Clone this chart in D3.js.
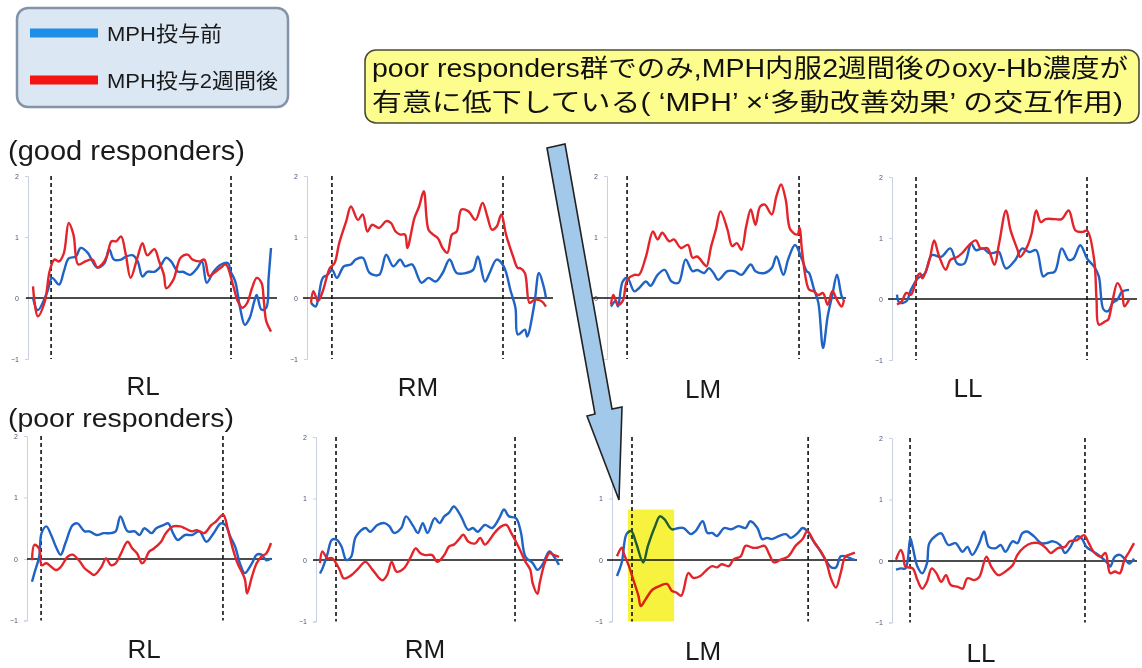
<!DOCTYPE html>
<html><head><meta charset="utf-8">
<script src="https://cdn.jsdelivr.net/npm/d3@7"></script>
<style>
html,body{margin:0;padding:0;background:#fff;}
svg{display:block;font-family:"Liberation Sans",Arial,"Noto Sans CJK JP",sans-serif;}
</style></head>
<body>
<script>
// ---------- data ----------
const groups = ["(good responders)", "(poor responders)"];
const regions = ["RL", "RM", "LM", "LL"];
const seriesNames = ["MPH投与前", "MPH投与2週間後"];
const yTicks = [2, 1, 0, -1];
const calloutLines = ["poor responders群でのみ,MPH内服2週間後のoxy-Hb濃度が",
                      "有意に低下している( ‘MPH’ ×‘多動改善効果’ の交互作用)"];

// task onset / offset (time units, 0-100) per panel
const taskOnset  = [7.6, 8.9, 6.9, 8.2, 3.8, 6.7, 6.3, 5.9];
const taskOffset = [83.2, 81.7, 80.7, 81.9, 79.9, 81.6, 80.3, 79.4];

// [time, oxy-Hb] — before MPH (blue) and after 2 weeks (red)
const goodRL_pre = [[0,0],[2,-0.2],[6,0.1],[8,0.33],[11,0.22],[13,0.44],[15,0.65],[18,0.68],[20,0.82],[23,0.74],[25,0.6],[27,0.5],[30,0.57],[32,0.8],[34,0.63],[37,0.63],[39,0.68],[42,0.7],[44,0.6],[46,0.35],[48,0.43],[51,0.43],[53,0.49],[56,0.66],[58,0.6],[61,0.43],[63,0.43],[66,0.38],[69,0.49],[71,0.6],[73,0.25],[76,0.44],[79,0.55],[82,0.57],[83,0.44],[85,0.27],[87,-0.16],[89,-0.44],[91,-0.33],[93,-0.05],[94,0.05],[96,-0.19],[98,-0.16],[99,0.33],[100,0.82]];
const goodRL_post = [[0,0.19],[2,-0.3],[5,-0.05],[7,0.44],[9,0.63],[11,0.6],[13,0.74],[15,1.23],[17,1.04],[19,0.55],[22,0.6],[25,0.63],[27,0.5],[29,0.55],[31,0.68],[33,0.93],[35,0.93],[37,1.01],[39,0.71],[41,0.33],[44,0.68],[46,0.9],[48,0.7],[51,0.8],[53,0.6],[55,0.38],[56,0.16],[59,0.3],[62,0.66],[65,0.71],[67,0.63],[70,0.6],[72,0.63],[74,0.36],[76,0.41],[79,0.5],[81,0.55],[84,0.22],[86,-0.05],[88,-0.16],[90,-0.08],[92,0.16],[94,0.33],[96,0.25],[97,-0.05],[98,-0.38],[100,-0.55]];
const goodRM_pre = [[0,-0.08],[2,-0.14],[3,-0.03],[5,0.33],[7,0.38],[9,0.46],[11,0.33],[14,0.52],[17,0.55],[19,0.63],[22,0.66],[25,0.41],[29,0.38],[32,0.71],[35,0.52],[38,0.63],[40,0.52],[43,0.55],[47,0.25],[50,0.33],[53,0.27],[56,0.41],[59,0.63],[62,0.41],[66,0.41],[69,0.46],[71,0.68],[74,0.27],[76,0.41],[79,0.63],[82,0.52],[85,0.11],[87,-0.16],[88,-0.6],[91,-0.52],[92,-0.63],[95,-0.11],[97,0.41],[99,0.19],[100,0]];
const goodRM_post = [[0,-0.08],[1,0.11],[3,-0.05],[5,0.11],[8,0.49],[10,0.57],[12,0.9],[15,1.26],[17,1.5],[20,1.28],[22,1.37],[24,1.09],[26,1.2],[29,1.15],[32,1.26],[34,1.23],[36,1.09],[38,1.04],[40,1.04],[41,0.82],[44,1.31],[46,1.5],[48,1.75],[50,1.12],[52,1.04],[54,0.98],[56,0.82],[58,0.74],[60,1.04],[62,1.09],[64,1.45],[67,1.42],[70,1.28],[73,1.56],[75,1.34],[77,1.12],[79,1.17],[81,1.37],[83,1.04],[86,0.68],[88,0.49],[89,0.49],[91,0.41],[93,-0.08],[95,-0.03],[98,-0.05],[100,-0.14]];
const goodLM_pre = [[0,-0.14],[2,-0.05],[3,-0.14],[5,0.27],[7,0.33],[10,0.11],[12,0.16],[15,0.27],[17,0.2],[20,0.38],[23,0.46],[26,0.27],[29,0.25],[32,0.63],[35,0.44],[37,0.46],[40,0.41],[42,0.49],[44,0.41],[46,0.3],[50,0.44],[53,0.44],[56,0.38],[60,0.55],[62,0.44],[66,0.41],[69,0.49],[71,0.68],[74,0.38],[76,0.63],[79,0.87],[82,0.63],[84,0.44],[85,0.41],[87,0.16],[89,-0.08],[91,-0.82],[93,-0.3],[95,0.05],[97,0.38],[99,0.03],[100,-0.03]];
const goodLM_post = [[0,-0.11],[1,0.05],[3,-0.11],[5,-0.05],[7,0.3],[10,0.38],[12,0.38],[15,0.68],[18,1.09],[20,0.96],[22,1.07],[25,0.93],[27,0.96],[30,0.82],[33,0.87],[35,0.66],[37,0.68],[40,0.55],[41,0.52],[43,0.85],[45,1.12],[47,1.42],[50,1.12],[52,0.85],[54,0.9],[56,0.79],[58,1.17],[60,1.45],[62,1.2],[64,1.5],[66,1.53],[69,1.37],[71,1.67],[73,1.86],[75,1.61],[77,1.12],[80,1.04],[81,1.15],[82,0.77],[85,0.14],[87,0.11],[89,0.05],[91,0.08],[93,-0.11],[95,0.11],[97,-0.03],[99,-0.14],[100,-0.03]];
const goodLL_pre = [[0,0.07],[1,-0.06],[4,-0.04],[6,0.15],[9,0.34],[12,0.42],[15,0.72],[19,0.69],[23,0.83],[26,0.58],[29,0.58],[32,0.91],[34,0.8],[37,0.83],[40,0.75],[43,0.77],[44,0.77],[47,0.5],[51,0.64],[54,0.83],[57,0.77],[60,0.8],[63,0.37],[65,0.42],[68,0.45],[71,0.83],[74,0.64],[76,0.66],[79,0.88],[82,0.66],[85,0.53],[87,0.37],[89,-0.17],[91,-0.2],[93,-0.06],[95,-0.01],[97,0.12],[100,0.15]];
const goodLL_post = [[0,-0.09],[2,-0.04],[4,0.1],[6,0.07],[9,0.39],[10,0.42],[11,0.34],[14,0.64],[16,0.96],[18,0.72],[21,0.48],[23,0.64],[26,0.69],[28,0.75],[31,0.88],[34,0.96],[36,0.83],[39,0.83],[42,0.56],[44,0.91],[47,1.45],[49,1.12],[52,0.8],[53,0.69],[56,0.85],[58,1.07],[60,1.45],[62,1.26],[64,1.31],[68,1.31],[71,1.31],[74,1.45],[77,1.12],[80,1.1],[82,1.12],[85,0.64],[86,-0.01],[87,-0.42],[90,-0.36],[91,-0.34],[93,-0.01],[95,0.26],[97,0.12],[98,-0.12],[100,-0.01]];
const poorRL_pre = [[0,-0.37],[1,-0.23],[3,0.04],[4,0.42],[6,0.53],[8,0.39],[10,0.2],[12,0.07],[14,0.26],[17,0.55],[19,0.58],[22,0.45],[24,0.45],[27,0.39],[30,0.42],[33,0.42],[35,0.45],[37,0.69],[40,0.45],[43,0.45],[45,0.39],[47,0.5],[50,0.42],[52,0.5],[55,0.55],[57,0.58],[59,0.42],[61,0.31],[64,0.39],[67,0.39],[70,0.45],[73,0.28],[76,0.42],[79,0.58],[81,0.55],[83,0.36],[85,0.2],[87,-0.07],[89,-0.23],[92,-0.07],[94,0.07],[96,0.07],[98,-0.02],[100,0.01]];
const poorRL_post = [[0,-0.02],[1,0.23],[3,0.17],[4,-0.1],[6,-0.07],[10,-0.18],[12,-0.13],[15,0.04],[17,0.07],[20,-0.04],[22,-0.15],[24,-0.21],[26,-0.26],[29,-0.13],[31,0.01],[33,-0.1],[35,-0.07],[37,0.07],[40,0.28],[42,0.17],[44,0.09],[46,-0.07],[47,-0.04],[49,0.12],[51,0.17],[54,0.28],[56,0.42],[59,0.53],[62,0.53],[64,0.5],[67,0.45],[69,0.47],[72,0.42],[75,0.55],[77,0.61],[80,0.72],[82,0.47],[84,0.17],[86,-0.07],[89,-0.32],[90,-0.56],[92,-0.29],[94,-0.07],[96,0.04],[98,0.09],[100,0.26]];
const poorRM_pre = [[0,-0.22],[1,-0.14],[3,0.08],[5,0.33],[7,0.33],[9,0.22],[11,0],[13,0.05],[15,0.38],[19,0.52],[21,0.46],[24,0.57],[27,0.6],[29,0.55],[31,0.44],[34,0.52],[36,0.71],[39,0.55],[41,0.44],[43,0.6],[45,0.44],[48,0.68],[50,0.6],[52,0.71],[54,0.77],[56,0.87],[59,0.71],[62,0.49],[64,0.52],[66,0.46],[69,0.57],[72,0.52],[75,0.68],[77,0.82],[79,0.71],[82,0.68],[84,0.46],[86,0.05],[89,-0.05],[91,-0.16],[93,-0.08],[96,0.14],[98,0.05],[100,-0.08]];
const poorRM_post = [[0,-0.05],[1,0.14],[3,0.03],[5,0.03],[8,-0.14],[10,-0.3],[13,-0.25],[16,-0.14],[19,-0.03],[22,-0.16],[26,-0.33],[28,-0.25],[30,-0.03],[32,-0.19],[35,-0.14],[38,0.05],[40,0.19],[42,0.11],[44,0.08],[47,0.08],[49,-0.03],[52,0.08],[54,0.22],[56,0.25],[58,0.33],[60,0.41],[62,0.3],[65,0.27],[67,0.36],[69,0.25],[71,0.33],[73,0.44],[76,0.55],[78,0.57],[80,0.44],[83,0.22],[86,-0.03],[88,-0.16],[89,-0.38],[91,-0.55],[92,-0.36],[94,-0.05],[96,0.11],[98,0.08],[100,0.05]];
const poorLM_pre = [[0,-0.26],[2,-0.04],[4,0.42],[6,0.47],[8,0.28],[11,-0.04],[13,0.23],[16,0.55],[18,0.71],[20,0.66],[23,0.5],[26,0.52],[28,0.52],[31,0.42],[33,0.47],[36,0.63],[38,0.44],[40,0.44],[42,0.39],[45,0.52],[48,0.5],[51,0.55],[54,0.52],[56,0.63],[59,0.52],[61,0.34],[63,0.36],[65,0.34],[68,0.39],[71,0.42],[73,0.36],[76,0.44],[78,0.52],[80,0.47],[82,0.34],[85,0.17],[88,-0.02],[90,-0.12],[92,-0.12],[94,0.06],[96,0.06],[99,0.01],[100,0]];
const poorLM_post = [[0,0.06],[2,0.2],[3,0.09],[5,-0.1],[7,-0.34],[9,-0.58],[10,-0.75],[12,-0.64],[15,-0.48],[18,-0.42],[21,-0.39],[23,-0.5],[25,-0.53],[27,-0.58],[30,-0.21],[32,-0.29],[35,-0.26],[38,-0.15],[40,-0.1],[42,-0.12],[44,-0.07],[47,-0.1],[49,0.01],[52,0.06],[54,0.23],[57,0.2],[59,0.2],[62,0.23],[64,0.09],[66,-0.04],[69,0.01],[72,0.06],[75,0.23],[78,0.34],[80,0.47],[83,0.28],[86,0.12],[88,-0.04],[90,-0.31],[92,-0.45],[94,-0.21],[96,0.06],[98,0.09],[100,0.12]];
const poorLL_pre = [[0,-0.14],[2,-0.12],[4,-0.12],[6,0.37],[7,0.23],[9,-0.09],[11,-0.2],[13,-0.04],[14,0.29],[17,0.42],[19,0.45],[22,0.26],[25,0.29],[28,0.15],[30,0.23],[32,0.1],[35,0.29],[37,0.48],[39,0.23],[42,0.21],[44,0.26],[46,0.15],[49,0.32],[51,0.29],[53,0.45],[55,0.48],[58,0.4],[61,0.29],[63,0.29],[66,0.32],[69,0.26],[71,0.13],[73,0.21],[76,0.4],[78,0.37],[80,0.23],[83,0.15],[86,0.07],[89,-0.04],[90,-0.09],[92,0.07],[94,0.1],[96,0.04],[98,-0.04],[100,0.04]];
const poorLL_post = [[0,0.02],[2,0.18],[3,0.1],[4,-0.09],[7,-0.12],[9,-0.31],[11,-0.45],[13,-0.34],[15,-0.12],[17,-0.2],[19,-0.34],[21,-0.23],[23,-0.39],[26,-0.42],[28,-0.45],[30,-0.28],[33,-0.31],[35,-0.26],[38,0.07],[40,-0.09],[43,-0.23],[46,-0.17],[49,-0.07],[51,0.1],[54,0.23],[57,0.29],[60,0.29],[63,0.21],[65,0.13],[68,0.21],[71,0.23],[73,0.32],[76,0.34],[79,0.42],[81,0.29],[83,0.15],[86,0.07],[88,0.13],[90,-0.2],[92,-0.17],[94,-0.2],[96,0.02],[98,0.15],[100,0.29]];

const preSeries  = [goodRL_pre, goodRM_pre, goodLM_pre, goodLL_pre, poorRL_pre, poorRM_pre, poorLM_pre, poorLL_pre];
const postSeries = [goodRL_post, goodRM_post, goodLM_post, goodLL_post, poorRL_post, poorRM_post, poorLM_post, poorLL_post];

// highlighted window in poor-responder LM panel (time range, value range)
const highlightTime = [4.6, 24];
const highlightValue = [-1, 0.82];

// ---------- layout (pixels) ----------
const W = 1142, H = 668;
const layout = [
  {axisX:28,  x0:33,  x1:271,  z0:26,  z1:277,  y0:298, ppu:61,   lx:143, ly:395},
  {axisX:307, x0:311, x1:546,  z0:303, z1:553,  y0:298, ppu:61,   lx:418, ly:396},
  {axisX:607, x0:611, x1:844,  z0:593, z1:846,  y0:298, ppu:61,   lx:703, ly:398},
  {axisX:892, x0:897, x1:1129, z0:888, z1:1137, y0:299, ppu:61,   lx:968, ly:397},
  {axisX:27,  x0:32,  x1:271,  z0:27,  z1:272,  y0:559, ppu:61.5, lx:144, ly:658},
  {axisX:316, x0:320, x1:559,  z0:313, z1:563,  y0:560, ppu:61.5, lx:425, ly:658},
  {axisX:612, x0:617, x1:855,  z0:607, z1:857,  y0:560, ppu:61.5, lx:703, ly:660},
  {axisX:892, x0:896, x1:1134, z0:888, z1:1137, y0:561, ppu:61.5, lx:981, ly:662}
];
const colPre = "#1f63c4", colPost = "#e3242b";

const svg = d3.select("body").append("svg").attr("width", W).attr("height", H);
svg.append("rect").attr("width", W).attr("height", H).attr("fill", "#fff");

// ---------- panels ----------
layout.forEach((L, i) => {
  const g = svg.append("g");
  const x = d3.scaleLinear().domain([0, 100]).range([L.x0, L.x1]);
  const y = d3.scaleLinear().domain([-1, 2]).range([L.y0 + L.ppu, L.y0 - 2 * L.ppu]);

  const ax = g.append("g").attr("transform", `translate(${L.axisX},0)`)
    .call(d3.axisLeft(y).tickValues(yTicks).tickSize(3).tickPadding(6).tickFormat(d3.format("d")));
  ax.select(".domain").attr("stroke", "#c9d0e2").attr("stroke-width", 1);
  ax.selectAll(".tick line").attr("stroke", "#c9d0e2");
  ax.selectAll(".tick text").attr("fill", "#4d5377").attr("font-size", 7)
    .attr("font-family", "Liberation Sans, Arial, sans-serif");

  // zero line
  g.append("line").attr("x1", L.z0).attr("x2", L.z1).attr("y1", y(0)).attr("y2", y(0))
    .attr("stroke", "#111").attr("stroke-width", 1.4);

  // task period markers
  [taskOnset[i], taskOffset[i]].forEach(t => {
    g.append("line").attr("x1", x(t)).attr("x2", x(t)).attr("y1", y(2)).attr("y2", y(-1))
      .attr("stroke", "#111").attr("stroke-width", 1.6).attr("stroke-dasharray", "4,3");
  });

  const line = d3.line().x(d => x(d[0])).y(d => y(d[1])).curve(d3.curveCatmullRom.alpha(0.5));
  g.append("path").attr("d", line(preSeries[i])).attr("fill", "none")
    .attr("stroke", colPre).attr("stroke-width", 2.4).attr("stroke-linejoin", "round");
  g.append("path").attr("d", line(postSeries[i])).attr("fill", "none")
    .attr("stroke", colPost).attr("stroke-width", 2.4).attr("stroke-linejoin", "round");

  if (i === 6) {
    g.append("rect")
      .attr("x", x(highlightTime[0])).attr("width", x(highlightTime[1]) - x(highlightTime[0]))
      .attr("y", y(highlightValue[1])).attr("height", y(highlightValue[0]) - y(highlightValue[1]))
      .attr("fill", "#f6f23e").style("mix-blend-mode", "multiply");
  }

  g.append("text").attr("x", L.lx).attr("y", L.ly).attr("text-anchor", "middle")
    .attr("font-size", 26).attr("fill", "#1a1a1a").text(regions[i % 4]);
});

// group headers
svg.append("text").attr("x", 8).attr("y", 160).attr("font-size", 28).attr("fill", "#1a1a1a")
  .attr("textLength", 237).attr("lengthAdjust", "spacingAndGlyphs").text(groups[0]);
svg.append("text").attr("x", 8).attr("y", 427).attr("font-size", 26).attr("fill", "#1a1a1a")
  .attr("textLength", 226).attr("lengthAdjust", "spacingAndGlyphs").text(groups[1]);

// ---------- legend ----------
const lg = svg.append("g");
lg.append("rect").attr("x", 17).attr("y", 8).attr("width", 271).attr("height", 99).attr("rx", 11)
  .attr("fill", "#dbe7f3").attr("stroke", "#8593a8").attr("stroke-width", 2.5);
const legCols = ["#1e8fe6", "#f41414"];
const legY = [33, 80];
const legLen = [115, 171];
seriesNames.forEach((s, k) => {
  lg.append("rect").attr("x", 30).attr("y", legY[k] - 4.5).attr("width", 68).attr("height", 9).attr("fill", legCols[k]);
  lg.append("text").attr("x", 107).attr("y", legY[k] + 7.5).attr("font-size", 21).attr("fill", "#1a1a1a")
    .attr("textLength", legLen[k]).attr("lengthAdjust", "spacingAndGlyphs").text(s);
});

// ---------- callout ----------
const cg = svg.append("g");
cg.append("rect").attr("x", 365).attr("y", 50).attr("width", 774).attr("height", 73).attr("rx", 11)
  .attr("fill", "#fdfd8e").attr("stroke", "#4a4a3a").attr("stroke-width", 1.6);
const cY = [77, 111], cLen = [756, 751];
calloutLines.forEach((s, k) => {
  cg.append("text").attr("x", 372).attr("y", cY[k]).attr("font-size", 25).attr("fill", "#111")
    .attr("textLength", cLen[k]).attr("lengthAdjust", "spacingAndGlyphs").text(s);
});

// ---------- arrow ----------
const arrowPts = [[547,148],[565,144],[612,409],[622,407],[619,500],[587,416],[595,414]];
svg.append("path").attr("d", d3.line()(arrowPts) + "Z")
  .attr("fill", "#a2c8ea").attr("stroke", "#222").attr("stroke-width", 1.6).attr("stroke-linejoin", "miter");
</script>
</body></html>
